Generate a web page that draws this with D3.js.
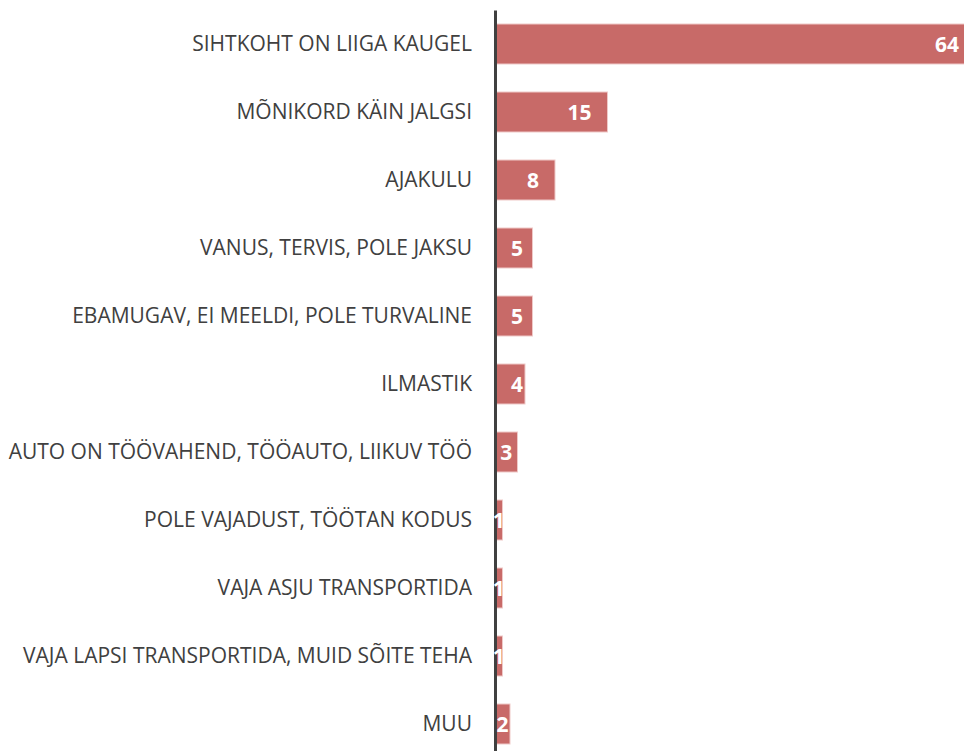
<!DOCTYPE html>
<html>
<head>
<meta charset="utf-8">
<script src="https://cdn.jsdelivr.net/npm/d3@7"></script>
<style>
  body { margin: 0; background: #fff; }
  svg { display: block; }
</style>
</head>
<body>
<svg id="chart" width="964" height="751"></svg>
<script>
const categories = [
  "SIHTKOHT ON LIIGA KAUGEL",
  "MÕNIKORD KÄIN JALGSI",
  "AJAKULU",
  "VANUS, TERVIS, POLE JAKSU",
  "EBAMUGAV, EI MEELDI, POLE TURVALINE",
  "ILMASTIK",
  "AUTO ON TÖÖVAHEND, TÖÖAUTO, LIIKUV TÖÖ",
  "POLE VAJADUST, TÖÖTAN KODUS",
  "VAJA ASJU TRANSPORTIDA",
  "VAJA LAPSI TRANSPORTIDA, MUID SÕITE TEHA",
  "MUU"
];
const values = [64, 15, 8, 5, 5, 4, 3, 1, 1, 1, 2];

const svg = d3.select("#chart");
const axisX = 495;

const x = d3.scaleLinear()
  .domain([0, 64])
  .range([axisX, axisX + 480]);

const y = d3.scaleBand()
  .domain(categories)
  .range([10, 758])
  .paddingInner(28 / 68)
  .paddingOuter(14 / 68);

const data = categories.map((c, i) => ({ cat: c, value: values[i] }));

// bars
svg.append("g")
  .selectAll("rect")
  .data(data)
  .enter()
  .append("rect")
  .attr("x", x(0))
  .attr("y", d => y(d.cat))
  .attr("width", d => x(d.value) - x(0))
  .attr("height", y.bandwidth())
  .attr("fill", "#C86A68")
  .attr("stroke", "#EFC9C8")
  .attr("stroke-width", 1);

// category axis
const yAxis = d3.axisLeft(y).tickSize(0).tickSizeOuter(0).tickPadding(23);
const ax = svg.append("g")
  .attr("transform", `translate(${axisX},0)`)
  .call(yAxis);

ax.select(".domain")
  .attr("stroke", "#404040")
  .attr("stroke-width", 3);

ax.selectAll(".tick text")
  .attr("fill", "#404040")
  .style("font-family", "'Open Sans', sans-serif")
  .style("font-size", "21px");

// value labels, inside end like Excel (drawn over the axis line)
const labels = svg.append("g")
  .selectAll("text")
  .data(data)
  .enter()
  .append("text")
  .attr("y", d => y(d.cat) + y.bandwidth() / 2)
  .attr("dy", "0.36em")
  .attr("fill", "#fff")
  .style("font-family", "'Open Sans', sans-serif")
  .style("font-weight", "bold")
  .style("font-size", "21px")
  .text(d => d.value);

labels.each(function(d) {
  const w = this.getComputedTextLength();
  const end = x(d.value);
  let left = Math.max(end - 16 - w, axisX + 16);
  if (left + w > end) left = (x(0) + end) / 2 - w / 2; // too short, center on bar
  d3.select(this).attr("x", left);
});
</script>
</body>
</html>
